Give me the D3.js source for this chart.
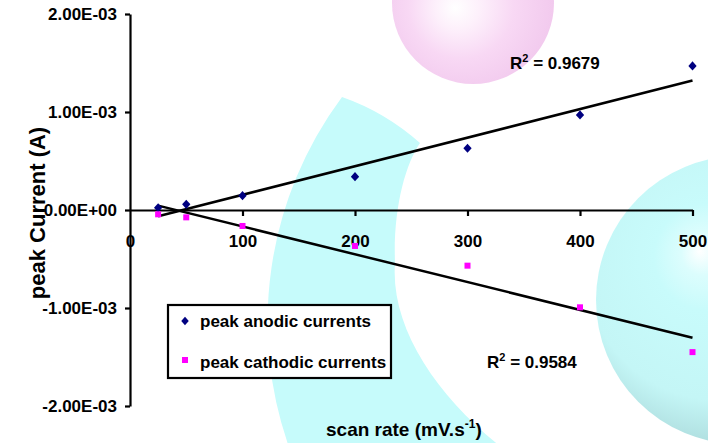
<!DOCTYPE html>
<html>
<head>
<meta charset="utf-8">
<script src="https://cdn.jsdelivr.net/npm/d3@7"></script>
<style>
  body { margin: 0; background: #fff; }
  text { font-family: "Liberation Sans", Arial, sans-serif; font-weight: bold; fill: #000; }
</style>
</head>
<body>
<svg id="chart" width="708" height="443"></svg>
<script>
// scan rate (mV/s) and peak currents (A)
var scanRate = [25, 50, 100, 200, 300, 400, 500];
var anodic = [2.3e-5, 5.8e-5, 1.46e-4, 3.4e-4, 6.3e-4, 9.7e-4, 1.47e-3];
var cathodic = [-4.4e-5, -7.5e-5, -1.63e-4, -3.67e-4, -5.68e-4, -9.93e-4, -1.45e-3];
var xTicks = [0, 100, 200, 300, 400, 500];
var yTicks = [2e-3, 1e-3, 0, -1e-3, -2e-3];
var yTickLabels = ["2.00E-03", "1.00E-03", "0.00E+00", "-1.00E-03", "-2.00E-03"];
var seriesNames = ["peak anodic currents", "peak cathodic currents"];
var r2Values = ["0.9679", "0.9584"];

var svg = d3.select("#chart");
var x = d3.scaleLinear().domain([0, 500]).range([130, 692.5]);
var y = d3.scaleLinear().domain([-2e-3, 2e-3]).range([406, 14]);

// background decoration (watermark bubbles)
var defs = svg.append("defs");
var pinkGrad = defs.append("radialGradient").attr("id", "pinkG")
  .attr("gradientUnits", "userSpaceOnUse")
  .attr("cx", 465).attr("cy", 5).attr("r", 88).attr("fx", 455).attr("fy", 8);
pinkGrad.append("stop").attr("offset", "0%").attr("stop-color", "#ffffff");
pinkGrad.append("stop").attr("offset", "25%").attr("stop-color", "#fdf0fb");
pinkGrad.append("stop").attr("offset", "60%").attr("stop-color", "#f8d8f4");
pinkGrad.append("stop").attr("offset", "100%").attr("stop-color", "#f2caee");
var cyanGrad = defs.append("radialGradient").attr("id", "cyanG")
  .attr("cx", "45%").attr("cy", "40%").attr("r", "62%").attr("fx", "36%").attr("fy", "33%");
cyanGrad.append("stop").attr("offset", "0%").attr("stop-color", "#ffffff");
cyanGrad.append("stop").attr("offset", "12%").attr("stop-color", "#dcfdfd");
cyanGrad.append("stop").attr("offset", "30%").attr("stop-color", "#c8fbfb");
cyanGrad.append("stop").attr("offset", "75%").attr("stop-color", "#c4f6f6");
cyanGrad.append("stop").attr("offset", "100%").attr("stop-color", "#addcdd");

var bg = svg.append("g");
bg.append("circle").attr("cx", 473).attr("cy", 3).attr("r", 81).attr("fill", "url(#pinkG)");
bg.append("path")
  .attr("d", "M342,97 A377,377 0 0,0 290,450 L505,450 C440,400 390,330 395,263 C393,210 405,165 420,143 Q385,112 342,97 Z")
  .attr("fill", "#c6fbfb");
bg.append("circle").attr("cx", 740).attr("cy", 300).attr("r", 144).attr("fill", "url(#cyanG)");

// axes
var yAxis = d3.axisLeft(y).tickValues(yTicks)
  .tickFormat(function(d, i) { return yTickLabels[i]; })
  .tickSize(5).tickSizeOuter(0).tickPadding(8);
var gy = svg.append("g").attr("transform", "translate(130,0)").call(yAxis);
gy.selectAll("text").style("font-size", "17px").attr("font-family", null);
gy.selectAll("line, path").attr("stroke", "#000").attr("stroke-width", 2.2);

var xAxis = d3.axisBottom(x).tickValues(xTicks).tickFormat(d3.format("d"))
  .tickSize(6).tickSizeOuter(0).tickPadding(19);
var gx = svg.append("g").attr("transform", "translate(0," + y(0) + ")").call(xAxis);
gx.selectAll("text").style("font-size", "17px").attr("font-family", null);
gx.selectAll("line, path").attr("stroke", "#000").attr("stroke-width", 2.2);
gx.select(".tick line").remove();

// linear trend lines
function fit(xs, ys) {
  var mx = d3.mean(xs), my = d3.mean(ys);
  var sxy = d3.sum(xs, function(v, i) { return (v - mx) * (ys[i] - my); });
  var sxx = d3.sum(xs, function(v) { return (v - mx) * (v - mx); });
  var b = sxy / sxx;
  return { b: b, a: my - b * mx };
}
[anodic, cathodic].forEach(function(ser) {
  var f = fit(scanRate, ser);
  var ends = [scanRate[0], scanRate[scanRate.length - 1]];
  svg.append("line")
    .attr("x1", x(ends[0])).attr("y1", y(f.a + f.b * ends[0]))
    .attr("x2", x(ends[1])).attr("y2", y(f.a + f.b * ends[1]))
    .attr("stroke", "#000").attr("stroke-width", 2.5);
});

// markers
var diamond = d3.symbol().type(d3.symbolDiamond2).size(44);
svg.selectAll(".an").data(anodic).enter().append("path")
  .attr("class", "an")
  .attr("d", diamond)
  .attr("transform", function(d, i) { return "translate(" + x(scanRate[i]) + "," + y(d) + ") scale(1,1.1)"; })
  .attr("fill", "#000080");
svg.selectAll(".ca").data(cathodic).enter().append("rect")
  .attr("class", "ca")
  .attr("x", function(d, i) { return x(scanRate[i]) - 3; })
  .attr("y", function(d) { return y(d) - 3; })
  .attr("width", 6).attr("height", 6)
  .attr("fill", "#ff00ff");

// R^2 labels
function r2(xp, yp, val) {
  var t = svg.append("text").attr("x", xp).attr("y", yp).style("font-size", "17px");
  t.append("tspan").text("R");
  t.append("tspan").text("2").attr("dy", -7).style("font-size", "11px");
  t.append("tspan").text(" = " + val).attr("dy", 7);
}
r2(510, 69, r2Values[0]);
r2(487, 368, r2Values[1]);

// legend
var lg = svg.append("g");
lg.append("rect").attr("x", 168).attr("y", 305).attr("width", 223).attr("height", 73)
  .attr("fill", "#fff").attr("stroke", "#000").attr("stroke-width", 2.2);
lg.append("path").attr("d", diamond).attr("transform", "translate(185,321) scale(0.9,1)").attr("fill", "#000080");
lg.append("rect").attr("x", 182).attr("y", 357).attr("width", 6).attr("height", 6).attr("fill", "#ff00ff");
lg.selectAll(".lt").data(seriesNames).enter().append("text")
  .attr("class", "lt")
  .attr("x", 200)
  .attr("y", function(d, i) { return 327 + i * 41; })
  .style("font-size", "17px")
  .text(function(d) { return d; });

// axis titles
var xt = svg.append("text").attr("x", 326).attr("y", 436).style("font-size", "19px");
xt.append("tspan").text("scan rate (mV.s");
xt.append("tspan").text("-1").attr("dy", -8).style("font-size", "12px");
xt.append("tspan").text(")").attr("dy", 8);

svg.append("text")
  .attr("transform", "translate(45,213) rotate(-90)")
  .attr("text-anchor", "middle")
  .style("font-size", "22px")
  .text("peak Current (A)");
</script>
</body>
</html>
